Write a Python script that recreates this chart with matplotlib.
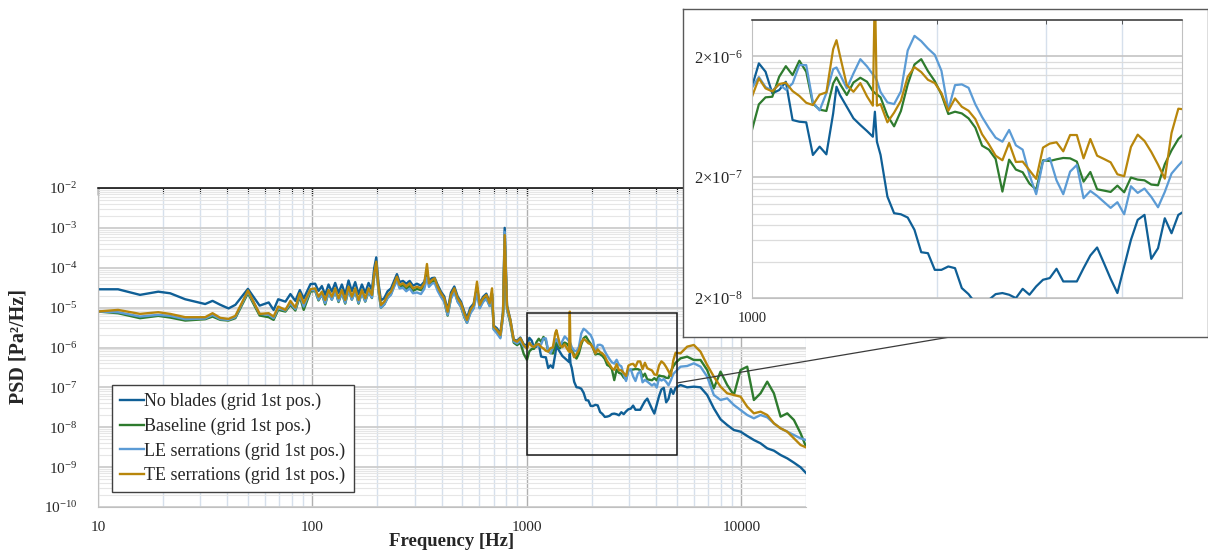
import numpy as np
import matplotlib
matplotlib.use("Agg")
import matplotlib.pyplot as plt
from matplotlib.ticker import FixedLocator, FuncFormatter, LogLocator, NullFormatter, FixedFormatter
from matplotlib.patches import Rectangle, ConnectionPatch

plt.rcParams['font.family'] = ['Liberation Serif', 'DejaVu Serif']
plt.rcParams['mathtext.fontset'] = 'custom'
plt.rcParams['mathtext.rm'] = 'Liberation Serif'
plt.rcParams['mathtext.it'] = 'Liberation Serif:italic'
plt.rcParams['mathtext.bf'] = 'Liberation Serif:bold'

# ---------------- data (PSD given in dB re 1 Pa^2/Hz) ----------------
freq_hz = [
    # 10 - 100 Hz
    10, 12.4, 15.7, 19.1, 21.7, 25.5, 31.6, 34.2, 37.2, 40.6, 43.7, 50, 56.7, 62.5,
    65.9, 69.2, 74.8, 78.9, 83.2, 87.3, 91, 97.9,
    # 100 - 1000 Hz
    102.9, 106.7, 110.6, 114.6, 118.8, 123.1, 127.6, 132.3, 137.1, 142.1,
    147.3, 152.6, 158.2, 164.0, 170.0, 176.2, 182.6, 189.3, 194.1, 198.3,
    203.3, 208.5, 216.1, 224.0, 232.2, 240.6, 247.6, 254.8, 264.1, 273.7,
    283.8, 294.1, 306.9, 320.4, 332.1, 341.8, 349.2, 360.6, 371.1, 383.3,
    397.3, 411.7, 426.8, 442.3, 458.5, 475.2, 492.5, 510.5, 525.3, 544.5,
    564.3, 584.9, 601.9, 623.9, 646.5, 670.2, 687.2, 699.6, 725.2, 751.6,
    773.4, 787.4, 807.4, 836.7, 867.6, 898.9, 931.7, 965.8,
    # 1000 - 5000 Hz
    1000, 1026, 1052, 1079, 1107, 1135, 1164, 1194, 1225, 1256, 1288, 1321, 1355,
    1372, 1390, 1426, 1462, 1500, 1538, 1572, 1584, 1596,
    1618, 1660, 1702, 1746, 1791, 1837, 1884, 1932, 1982, 2032, 2085, 2138, 2193,
    2249, 2307, 2366, 2427, 2489, 2553, 2618, 2685, 2754, 2825, 2897, 2972, 3048,
    3126, 3206, 3289, 3373, 3459, 3548, 3639, 3733, 3828, 3926, 4027, 4130, 4236,
    4345, 4457, 4571, 4688, 4808, 4932,
    # 5000 - 20000 Hz
    5198, 5584, 5998, 6444, 6923, 7437, 7989, 8582, 9219, 9904, 10639, 11429,
    12278, 13190, 14169, 15224, 16354, 17569, 18873, 20000,
]

no_blades_db = [
    -45.4, -45.4, -46.8, -46.0, -46.4, -47.9, -49.1, -48.3, -49.3, -50.2, -49.3, -45.3,
    -49.5, -48.7, -50.6, -47.9, -48.5, -46.6, -48.3, -45.6, -47.7, -44.1,
    -44.0, -45.8, -44.6, -46.8, -44.2, -46.0, -43.8, -46.3, -44.2, -46.7,
    -43.2, -45.9, -43.6, -46.6, -44.2, -46.3, -43.8, -45.6, -40.0, -37.4,
    -44.0, -48.2, -47.6, -45.9, -45.2, -43.2, -41.6, -43.6, -43.3, -44.0,
    -43.3, -44.5, -44.0, -44.5, -43.5, -41.5, -43.3, -42.6, -42.5, -44.3,
    -46.0, -47.2, -50.6, -46.2, -44.7, -47.2, -48.5, -51.0, -52.6, -50.0,
    -49.0, -45.0, -49.0, -47.3, -46.5, -48.6, -46.5, -54.5, -55.2, -56.5,
    -51.0, -30.0, -49.5, -53.0, -58.0, -58.3, -57.5, -59.2,
    -59.50, -57.57, -58.26, -60.05, -59.78, -59.09, -62.26, -62.40, -62.45, -65.15,
    -64.46, -65.10, -61.71, -59.50, -60.19, -61.16, -62.12, -62.67, -63.17,
    -63.64, -61.57, -64.05,
    -65.15, -68.60, -69.97, -70.06, -70.33, -71.35, -73.20, -73.28, -74.66, -74.66,
    -74.38, -74.52, -76.17, -76.67, -77.41, -77.33, -77.14, -76.67, -76.58, -76.72,
    -77.00, -76.23, -76.72, -76.03, -75.48, -75.34, -74.57, -75.62, -75.62, -75.62,
    -74.52, -73.47, -72.81, -74.10, -75.40, -76.58, -74.38, -72.18, -70.52, -70.11,
    -73.75, -72.87, -70.39, -71.63, -70.11,
    -69.40, -69.99, -69.82, -69.99, -71.91, -75.26, -78.01, -79.44, -80.69, -81.11,
    -82.19, -83.20, -84.03, -85.29, -85.87, -86.96, -87.80, -88.88, -90.05, -91.47,
]

baseline_db = [
    -50.98, -51.40, -52.65, -52.07, -52.49, -53.24, -52.90, -52.24, -53.07, -53.24,
    -52.65, -46.39, -51.98, -52.40, -53.07, -50.57, -50.98, -49.31, -50.73, -47.23,
    -50.57, -45.97,
    -45.8, -48.2, -46.6, -49.2, -46.2, -48.0, -45.8, -48.6, -46.3, -49.0,
    -45.5, -48.0, -45.8, -49.0, -46.2, -48.5, -46.0, -47.6, -42.0, -39.5,
    -46.0, -50.0, -49.2, -47.5, -46.6, -44.4, -42.8, -44.8, -44.4, -45.3,
    -44.6, -45.8, -45.3, -45.6, -44.5, -40.5, -44.2, -43.5, -43.1, -45.2,
    -47.0, -48.4, -52.0, -47.5, -45.8, -48.4, -49.8, -52.4, -53.8, -51.2,
    -50.0, -45.0, -50.0, -48.4, -47.5, -49.6, -46.5, -55.4, -56.2, -57.4,
    -52.0, -34.0, -50.5, -54.0, -58.8, -59.4, -58.8, -61.6,
    -63.08, -60.96, -60.38, -60.33, -58.68, -57.80, -58.54, -57.35, -58.26, -60.91,
    -61.40, -61.51, -59.23, -58.73, -59.28, -60.19, -59.15, -58.76, -59.09,
    -59.86, -60.03, -60.14,
    -60.38, -61.90, -62.78, -61.51, -59.31, -57.66, -57.22, -58.21, -59.04, -60.14,
    -61.76, -61.57, -61.71, -62.12, -62.89, -64.38, -64.71, -65.48, -68.18, -65.54,
    -66.36, -66.58, -67.52, -68.02, -65.59, -65.65, -65.51, -65.40, -65.43, -65.70,
    -67.36, -66.56, -67.99, -68.10, -68.21, -67.69, -68.24, -67.02, -67.19, -67.25,
    -67.60, -67.66, -65.92, -64.77, -63.83,
    -62.72, -62.30, -63.13, -63.13, -65.64, -70.24, -66.06, -69.40, -71.91, -65.64,
    -64.81, -73.17, -71.49, -68.57, -71.49, -77.35, -76.51, -78.18, -81.53, -84.87,
]

le_serrations_db = [
    -50.98, -51.15, -52.24, -51.82, -52.07, -52.90, -52.74, -51.82, -52.90, -53.07,
    -52.40, -45.97, -51.57, -51.82, -52.65, -50.15, -50.73, -48.90, -50.40, -46.81,
    -49.73, -45.56,
    -45.7, -48.0, -46.7, -48.9, -46.3, -48.0, -45.9, -48.4, -46.3, -48.8,
    -45.5, -48.0, -45.9, -48.8, -46.3, -48.4, -45.9, -47.5, -41.8, -39.0,
    -45.9, -50.0, -49.2, -47.6, -46.8, -44.7, -43.2, -45.2, -45.0, -45.9,
    -45.2, -46.4, -46.2, -46.6, -45.3, -42.5, -44.8, -44.0, -43.8, -45.8,
    -47.3, -48.6, -51.8, -47.8, -46.0, -48.6, -49.8, -52.3, -53.8, -51.5,
    -50.2, -46.5, -50.2, -48.6, -47.8, -49.6, -46.8, -55.5, -56.5, -57.7,
    -52.2, -31.0, -50.4, -53.6, -58.5, -59.0, -58.3, -59.8,
    -59.59, -58.70, -59.53, -59.83, -59.31, -59.75, -59.23, -57.71, -57.71, -60.80,
    -61.46, -60.03, -58.04, -57.91, -58.48, -59.64, -58.40, -57.22, -57.82,
    -58.48, -58.65, -59.01,
    -59.94, -60.80, -60.94, -59.89, -56.50, -55.29, -55.73, -56.34, -56.86, -58.18,
    -61.40, -59.37, -59.31, -59.59, -60.96, -62.01, -62.92, -63.72, -64.05, -63.08,
    -64.35, -64.71, -66.80, -68.40, -65.70, -65.40, -67.25, -68.40, -66.53, -65.98,
    -68.73, -68.13, -68.54, -69.04, -69.53, -69.06, -70.06, -67.74, -68.29, -67.93,
    -68.62, -69.48, -68.21, -66.69, -66.03,
    -64.81, -64.64, -63.97, -64.81, -67.31, -71.91, -73.17, -72.75, -74.42, -75.67,
    -76.93, -77.76, -76.93, -77.51, -79.02, -80.27, -81.11, -81.94, -82.78, -83.20,
]

te_serrations_db = [
    -50.98, -50.57, -51.57, -51.15, -51.57, -52.40, -52.40, -51.40, -52.57, -52.82,
    -52.07, -45.72, -51.57, -51.40, -52.24, -49.73, -50.57, -48.31, -49.98, -46.39,
    -48.90, -45.39,
    -45.16, -47.25, -46.00, -48.09, -45.58, -47.25, -45.16, -47.67, -45.58, -48.09,
    -44.74, -47.25, -45.16, -48.09, -45.58, -47.67, -45.16, -46.83, -41.40, -38.47,
    -45.16, -49.34, -48.50, -46.83, -46.00, -43.91, -42.23, -44.32, -43.91, -44.74,
    -43.91, -45.16, -44.74, -45.16, -43.91, -39.06, -43.91, -43.07, -42.65, -44.74,
    -46.41, -47.67, -51.01, -46.83, -45.16, -47.67, -48.92, -51.43, -53.10, -50.59,
    -49.34, -43.49, -49.34, -47.67, -46.83, -48.92, -45.16, -54.77, -55.61, -56.86,
    -51.43, -31.8, -49.76, -53.10, -58.12, -58.54, -57.70, -59.37,
    -60.33, -58.81, -59.64, -59.89, -59.28, -59.17, -59.86, -60.27, -60.83, -61.02,
    -60.16, -59.97, -56.39, -55.65, -56.94, -59.37, -59.92, -59.20, -60.30,
    -61.07, -51.0, -61.07,
    -60.94, -62.45, -61.65, -60.66, -58.68, -57.88, -58.29, -58.93, -59.20, -60.03,
    -61.49, -60.47, -61.16, -61.49, -62.18, -63.44, -64.27, -65.21, -65.59, -64.16,
    -65.73, -65.70, -66.42, -67.13, -64.54, -64.21, -64.10, -64.85, -63.50, -63.50,
    -65.43, -63.83, -65.21, -65.48, -65.76, -66.75, -66.91, -64.49, -63.47, -63.99,
    -64.90, -65.95, -67.11, -63.33, -61.32,
    -61.46, -59.79, -59.37, -61.04, -64.39, -67.31, -69.82, -71.49, -71.91, -72.33,
    -74.84, -76.51, -76.09, -76.93, -79.02, -80.27, -81.11, -82.78, -84.45, -85.04,
]

series_labels = ["No blades (grid 1st pos.)", "Baseline (grid 1st pos.)",
                 "LE serrations (grid 1st pos.)", "TE serrations (grid 1st pos.)"]
series_db = [no_blades_db, baseline_db, le_serrations_db, te_serrations_db]
series_colors = ["#0f5f96", "#2e7b2e", "#5b9bd5", "#b8860b"]

main_xticks = [10, 100, 1000, 10000]
main_yticks = [1e-10, 1e-9, 1e-8, 1e-7, 1e-6, 1e-5, 1e-4, 1e-3, 1e-2]
zoom_box_f = (1000, 5000)
zoom_box_psd = (2e-9, 7.3e-6)
inset_yticks = [2e-8, 2e-7, 2e-6]
inset_ytick_labels = [r'$2{\times}10^{-8}$', r'$2{\times}10^{-7}$', r'$2{\times}10^{-6}$']

for s in series_db:
    assert len(s) == len(freq_hz), (len(s), len(freq_hz))

f = np.array(freq_hz, dtype=float)
psd = [10 ** (np.array(s) / 10.0) for s in series_db]

W, H = 1208, 551
fig = plt.figure(figsize=(W / 100, H / 100), dpi=100)
text_c = '#262626'

# ---------------- main axes ----------------
ax = fig.add_axes([98 / W, (H - 507) / H, 708 / W, 319 / H], zorder=0)
for y, c, lab in zip(psd, series_colors, series_labels):
    ax.plot(f, y, color=c, lw=1.7, label=lab, solid_joinstyle='round')
ax.set_xscale('log')
ax.set_yscale('log')
ax.set_xlim(10, 20000)
ax.set_ylim(1e-10, 1e-2)

ax.xaxis.set_major_locator(FixedLocator(main_xticks))
ax.xaxis.set_major_formatter(FuncFormatter(lambda v, p: f"{int(round(v))}"))
ax.xaxis.set_minor_locator(FixedLocator([d * j for d in (10, 100, 1000, 10000)
                                         for j in range(2, 10) if d * j <= 20000]))
ax.xaxis.set_minor_formatter(NullFormatter())
ax.yaxis.set_major_locator(FixedLocator(main_yticks))
ax.yaxis.set_major_formatter(FuncFormatter(lambda v, p: r'$10^{%d}$' % int(round(np.log10(v)))))
ax.yaxis.set_minor_locator(FixedLocator([d * j for d in main_yticks[:-1] for j in range(2, 10)]))
ax.yaxis.set_minor_formatter(NullFormatter())

ax.grid(which='major', axis='x', color='#b0b0b0', lw=1.0)
ax.grid(which='minor', axis='x', color='#d6e0ec', lw=1.0)
ax.grid(which='major', axis='y', color='#cdcdcd', lw=1.3)
ax.grid(which='minor', axis='y', color='#e6e6e6', lw=0.8)
ax.set_axisbelow(True)

ax.tick_params(axis='x', which='both', bottom=False, top=True, labelbottom=True,
               labeltop=False, direction='in', color='black', labelsize=11,
               labelcolor=text_c, pad=10)
ax.tick_params(axis='x', which='major', length=5, width=1.0)
ax.tick_params(axis='x', which='minor', length=3.5, width=0.8)
ax.tick_params(axis='y', which='both', length=0, labelsize=11, labelcolor=text_c, pad=15)

ax.spines['top'].set_color('black')
ax.spines['top'].set_linewidth(1.1)
ax.spines['right'].set_visible(False)
ax.spines['left'].set_color('#c0c0c0')
ax.spines['bottom'].set_color('#c0c0c0')

ax.add_patch(Rectangle((zoom_box_f[0], zoom_box_psd[0]), zoom_box_f[1] - zoom_box_f[0],
                       zoom_box_psd[1] - zoom_box_psd[0], fill=False,
                       ec='#1a1a1a', lw=1.1, zorder=6))

leg = ax.legend(loc='upper left', bbox_to_anchor=(14 / 708, 122 / 319), borderaxespad=0,
                frameon=True, fancybox=False, edgecolor='#404040', framealpha=1,
                fontsize=13, handlelength=1.3, handletextpad=0.05, labelspacing=0.4,
                borderpad=0.45)
leg.get_frame().set_linewidth(1.0)
for t in leg.get_texts():
    t.set_color(text_c)

fig.text(452 / W, 1 - 541 / H, 'Frequency [Hz]', ha='center', va='center',
         fontsize=13.5, fontweight='bold', color=text_c)
fig.text(19 / W, 1 - 347 / H, 'PSD [Pa²/Hz]', ha='center', va='center', rotation=90,
         fontsize=14.5, fontweight='bold', color=text_c)

# ---------------- inset frame ----------------
frame_ax = fig.add_axes([683 / W, (H - 337) / H, 525 / W, 328 / H], zorder=2)
frame_ax.set_xticks([])
frame_ax.set_yticks([])
frame_ax.set_facecolor('white')
for s in frame_ax.spines.values():
    s.set_color('#595959')
    s.set_linewidth(1.0)

con = ConnectionPatch(xyA=(zoom_box_f[1], 1.29e-7), coordsA=ax.transData,
                      xyB=((950 - 683) / 525, 0.0), coordsB=frame_ax.transAxes,
                      color='#3a3a3a', lw=0.9, zorder=1.5)
fig.add_artist(con)

# ---------------- inset axes ----------------
ins = fig.add_axes([752 / W, (H - 298) / H, 430 / W, 278 / H], zorder=3)
for y, c in zip(psd, series_colors):
    ins.plot(f, y, color=c, lw=1.6, solid_joinstyle='round')
ins.set_xscale('log')
ins.set_yscale('log')
ins.set_xlim(zoom_box_f)
ins.set_ylim(2e-8, 4e-6)

ins.xaxis.set_major_locator(FixedLocator([1000]))
ins.xaxis.set_major_formatter(FixedFormatter(['1000']))
ins.xaxis.set_minor_locator(FixedLocator([2000, 3000, 4000]))
ins.xaxis.set_minor_formatter(NullFormatter())
ins.yaxis.set_major_locator(FixedLocator(inset_yticks))
ins.yaxis.set_major_formatter(FixedFormatter(inset_ytick_labels))
minor_y = [m * j for m in inset_yticks for j in range(2, 10) if m * j < 4e-6]
ins.yaxis.set_minor_locator(FixedLocator(minor_y))
ins.yaxis.set_minor_formatter(NullFormatter())

ins.grid(which='minor', axis='x', color='#d6e0ec', lw=1.0)
ins.grid(which='major', axis='y', color='#c4c4c4', lw=1.2)
ins.grid(which='minor', axis='y', color='#dcdcdc', lw=0.9)
ins.set_axisbelow(True)

ins.tick_params(axis='x', which='both', bottom=False, top=True, labelbottom=True,
                labeltop=False, direction='in', length=3, color='#404040',
                labelsize=10.5, labelcolor=text_c, pad=10)
ins.tick_params(axis='x', which='major', top=False)
ins.tick_params(axis='y', which='both', length=0, labelsize=12, labelcolor=text_c, pad=7)

ins.spines['top'].set_color('#303030')
ins.spines['top'].set_linewidth(1.1)
for side in ('left', 'bottom', 'right'):
    ins.spines[side].set_color('#c0c0c0')

fig.savefig('out.png', dpi=100)
